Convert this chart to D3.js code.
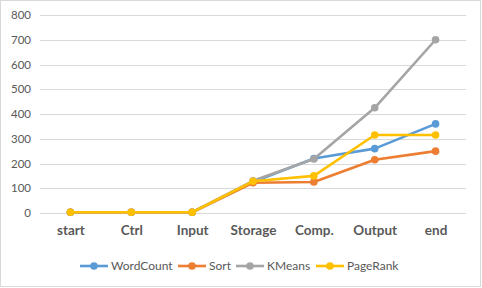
<!DOCTYPE html>
<html>
<head>
<meta charset="utf-8">
<script src="https://cdn.jsdelivr.net/npm/d3@7"></script>
<style>
  body { margin: 0; background: #fff; }
  svg { display: block; font-family: Lato, "Open Sans", sans-serif; }
</style>
</head>
<body>
<div id="chart"></div>
<script>
var w = 482,
    h = 288;

var categories = ['start', 'Ctrl', 'Input', 'Storage', 'Comp.', 'Output', 'end'];
var yTicks = [0, 100, 200, 300, 400, 500, 600, 700, 800];

var seriesNames = ['WordCount', 'Sort', 'KMeans', 'PageRank'];
var wordCount = [3, 3, 3, 125, 220, 260, 360];
var sortVals = [3, 3, 3, 122, 125, 215, 250];
var kMeans = [3, 3, 3, 130, 218, 425, 700];
var pageRank = [3, 3, 3, 128, 150, 315, 315];

var palette = ['#5B9BD5', '#ED7D31', '#A5A5A5', '#FFC000'];
var allValues = [wordCount, sortVals, kMeans, pageRank];

var svg = d3.select('#chart')
    .append('svg')
    .attr('width', w)
    .attr('height', h)

// chart border
svg.append('rect')
    .attr('x', 0.5).attr('y', 0.5)
    .attr('width', w - 2).attr('height', h - 2)
    .attr('fill', '#fff')
    .attr('stroke', '#d9d9d9')

var x = d3.scalePoint()
    .domain(categories)
    .range([40, 466])
    .padding(0.5)

var y = d3.scaleLinear()
    .domain([0, 800])
    .range([213, 15])

// gridlines
svg.append('g')
    .selectAll('line')
    .data(yTicks).enter().append('line')
    .attr('x1', 40)
    .attr('x2', 466)
    .attr('y1', function(d) { return Math.round(y(d)) + 0.5 })
    .attr('y2', function(d) { return Math.round(y(d)) + 0.5 })
    .attr('stroke', '#d9d9d9')
    .attr('stroke-width', 1)

// y axis labels
var yAxis = svg.append('g')
    .attr('transform', 'translate(31,0)')
    .call(d3.axisLeft(y).tickValues(yTicks).tickSize(0).tickPadding(0))
yAxis.select('.domain').remove()
yAxis.selectAll('text')
    .attr('fill', '#595959')
    .attr('font-size', '11.5px')
    .attr('font-family', 'Lato, sans-serif')

// x axis labels
var xAxis = svg.append('g')
    .attr('transform', 'translate(0,225)')
    .call(d3.axisBottom(x).tickSize(0).tickPadding(0))
xAxis.select('.domain').remove()
xAxis.selectAll('text')
    .attr('fill', '#595959')
    .attr('font-size', '13.5px')
    .attr('font-weight', 'bold')
    .attr('font-family', 'Lato, sans-serif')

var line = d3.line()
    .x(function(d, i) { return x(categories[i]) })
    .y(function(d) { return y(d) })

allValues.forEach(function(vals, k) {
    var g = svg.append('g')
    g.append('path')
        .datum(vals)
        .attr('d', line)
        .attr('fill', 'none')
        .attr('stroke', palette[k])
        .attr('stroke-width', 2.6)
        .attr('stroke-linejoin', 'round')
    g.selectAll('circle')
        .data(vals).enter().append('circle')
        .attr('cx', function(d, i) { return x(categories[i]) })
        .attr('cy', function(d) { return y(d) })
        .attr('r', 3.8)
        .attr('fill', palette[k])
})

// legend
var legendX = [80, 178, 236, 316];
var legend = svg.append('g')
    .selectAll('g')
    .data(seriesNames).enter()
    .append('g')
    .attr('transform', function(d, i) { return 'translate(' + legendX[i] + ',266)' })

legend.append('line')
    .attr('x1', 0).attr('x2', 28)
    .attr('stroke', function(d, i) { return palette[i] })
    .attr('stroke-width', 2.6)
legend.append('circle')
    .attr('cx', 14).attr('r', 3.8)
    .attr('fill', function(d, i) { return palette[i] })
legend.append('text')
    .text(function(d) { return d })
    .attr('x', 31)
    .attr('dy', '0.35em')
    .attr('fill', '#595959')
    .attr('font-size', '12px')
</script>
</body>
</html>
